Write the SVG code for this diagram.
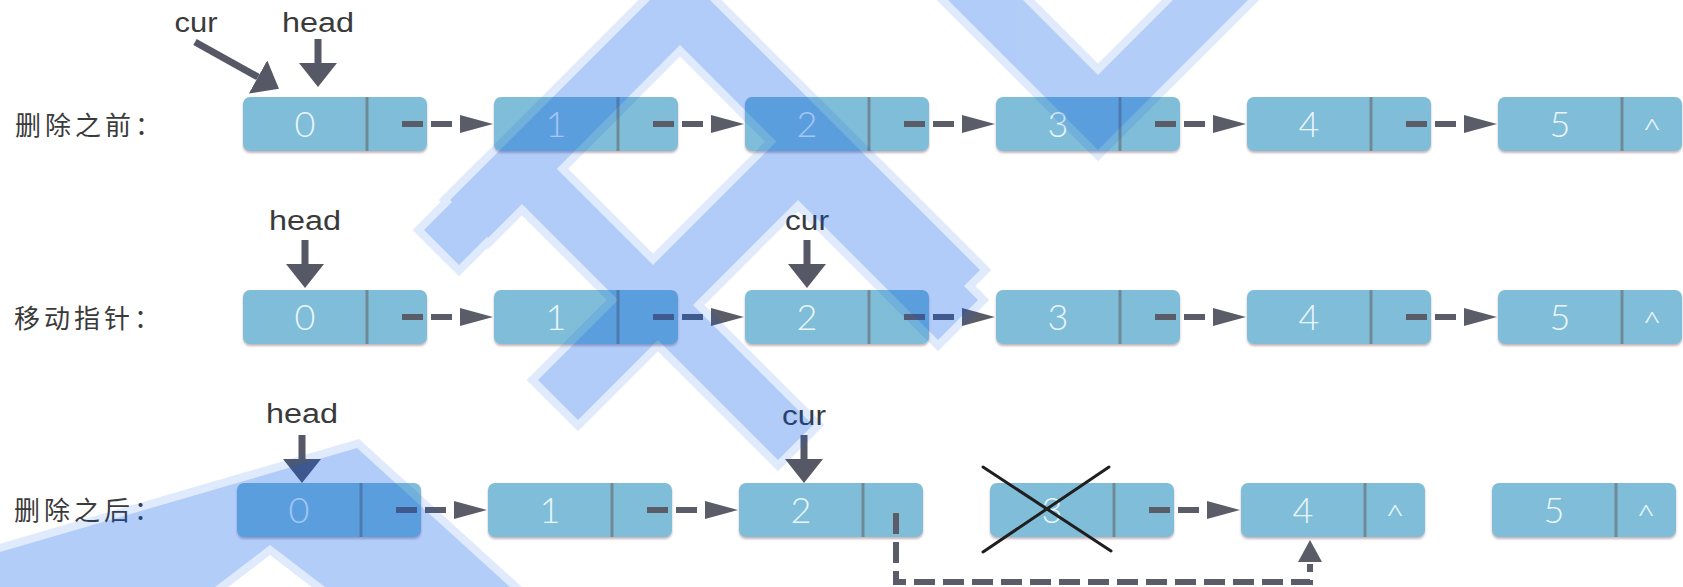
<svg xmlns="http://www.w3.org/2000/svg" width="1683" height="587" viewBox="0 0 1683 587">
  <style>
    .box { fill: #80bdd8; filter: url(#lift); }
    .div { stroke: #6f8a96; stroke-width: 3; }
    .val { font-family: Lato, "Liberation Sans", sans-serif; font-weight: 300; font-size: 36px; fill: #eaf6fb; text-anchor: middle; }
    .nil { font-family: Lato, "Liberation Sans", sans-serif; font-weight: 300; font-size: 32px; fill: #eaf6fb; text-anchor: middle; }
    .row { font-family: "Noto Sans CJK SC", "Noto Sans", sans-serif; font-size: 26px; letter-spacing: 4px; fill: #3a3a3a; }
    .ptr-label { font-family: "Liberation Sans", Arial, sans-serif; font-size: 27px; fill: #3a3a3a; text-anchor: middle; }
    .ptr { stroke: #565866; stroke-width: 7; fill: none; marker-end: url(#ptrHead); }
    .link { stroke: #5a5c68; stroke-width: 6; fill: none; stroke-dasharray: 21 8; marker-end: url(#linkHead); }
    .detour { stroke: #5a5c68; stroke-width: 6; fill: none; stroke-dasharray: 21 8; marker-end: url(#upHead); }
    .cross { stroke: #1f1f1f; stroke-width: 3; stroke-linecap: round; }
    .tint { fill: #0558ee; }
    .fringe { fill: #0558ee; stroke: #0558ee; stroke-width: 16; stroke-linejoin: miter; }
  </style>
  <defs>
    <filter id="lift" x="-5%" y="-10%" width="110%" height="130%">
      <feDropShadow dx="0" dy="2" stdDeviation="1.2" flood-color="#7a5a66" flood-opacity="0.45"/>
    </filter>
    <marker id="ptrHead" markerUnits="userSpaceOnUse" markerWidth="24" markerHeight="38" refX="0" refY="19" orient="auto">
      <path d="M0,0 L24,19 L0,38 z" fill="#565866"/>
    </marker>
    <marker id="linkHead" markerUnits="userSpaceOnUse" markerWidth="41" markerHeight="18" refX="0" refY="9" orient="auto">
      <path d="M8,0 L41,9 L8,18 z" fill="#5a5c68"/>
    </marker>
    <marker id="upHead" markerUnits="userSpaceOnUse" markerWidth="24" markerHeight="24" refX="0" refY="12" orient="auto">
      <path d="M2,0 L24,12 L2,24 z" fill="#5a5c68"/>
    </marker>
    <!-- chevron shapes shared by the overlay fill and its pale fringe -->
    <g id="chevrons">
      <polygon points="680,-30 980,270 942,308 680,45 488,238 450,200"/>
      <polygon points="521,133 813,425 778,460 521,203 459,265 424,230"/>
      <polygon points="798,120 978,300 938,340 798,200 578,420 538,380"/>
      <polygon points="918,-30 1098,150 1278,-30 1203,-30 1098,75 993,-30"/>
      <polygon points="0,587 0,552 357,448 510,587 325,587 270,545 215,587"/>
    </g>
  </defs>

  <rect width="1683" height="587" fill="#ffffff"/>

  <!-- row captions -->
  <g id="captions">
    <text class="row" x="15" y="135">删除之前：</text>
    <text class="row" x="14" y="328">移动指针：</text>
    <text class="row" x="14" y="520">删除之后：</text>
  </g>

  <!-- row 1: before deletion -->
  <g id="r1n0" transform="translate(243,97)"><rect class="box" width="184" height="54" rx="7"/><line class="div" x1="124" y1="0" x2="124" y2="54"/><text class="val" x="62" y="40">0</text></g>
  <g id="r1n1" transform="translate(494,97)"><rect class="box" width="184" height="54" rx="7"/><line class="div" x1="124" y1="0" x2="124" y2="54"/><text class="val" x="62" y="40">1</text></g>
  <g id="r1n2" transform="translate(745,97)"><rect class="box" width="184" height="54" rx="7"/><line class="div" x1="124" y1="0" x2="124" y2="54"/><text class="val" x="62" y="40">2</text></g>
  <g id="r1n3" transform="translate(996,97)"><rect class="box" width="184" height="54" rx="7"/><line class="div" x1="124" y1="0" x2="124" y2="54"/><text class="val" x="62" y="40">3</text></g>
  <g id="r1n4" transform="translate(1247,97)"><rect class="box" width="184" height="54" rx="7"/><line class="div" x1="124" y1="0" x2="124" y2="54"/><text class="val" x="62" y="40">4</text></g>
  <g id="r1n5" transform="translate(1498,97)"><rect class="box" width="184" height="54" rx="7"/><line class="div" x1="124" y1="0" x2="124" y2="54"/><text class="val" x="62" y="40">5</text><text class="nil" x="154" y="44" textLength="20" lengthAdjust="spacingAndGlyphs">^</text></g>

  <!-- row 2: pointer moved -->
  <g id="r2n0" transform="translate(243,290)"><rect class="box" width="184" height="54" rx="7"/><line class="div" x1="124" y1="0" x2="124" y2="54"/><text class="val" x="62" y="40">0</text></g>
  <g id="r2n1" transform="translate(494,290)"><rect class="box" width="184" height="54" rx="7"/><line class="div" x1="124" y1="0" x2="124" y2="54"/><text class="val" x="62" y="40">1</text></g>
  <g id="r2n2" transform="translate(745,290)"><rect class="box" width="184" height="54" rx="7"/><line class="div" x1="124" y1="0" x2="124" y2="54"/><text class="val" x="62" y="40">2</text></g>
  <g id="r2n3" transform="translate(996,290)"><rect class="box" width="184" height="54" rx="7"/><line class="div" x1="124" y1="0" x2="124" y2="54"/><text class="val" x="62" y="40">3</text></g>
  <g id="r2n4" transform="translate(1247,290)"><rect class="box" width="184" height="54" rx="7"/><line class="div" x1="124" y1="0" x2="124" y2="54"/><text class="val" x="62" y="40">4</text></g>
  <g id="r2n5" transform="translate(1498,290)"><rect class="box" width="184" height="54" rx="7"/><line class="div" x1="124" y1="0" x2="124" y2="54"/><text class="val" x="62" y="40">5</text><text class="nil" x="154" y="44" textLength="20" lengthAdjust="spacingAndGlyphs">^</text></g>

  <!-- row 3: after deletion -->
  <g id="r3n0" transform="translate(237,483)"><rect class="box" width="184" height="54" rx="7"/><line class="div" x1="124" y1="0" x2="124" y2="54"/><text class="val" x="62" y="40">0</text></g>
  <g id="r3n1" transform="translate(488,483)"><rect class="box" width="184" height="54" rx="7"/><line class="div" x1="124" y1="0" x2="124" y2="54"/><text class="val" x="62" y="40">1</text></g>
  <g id="r3n2" transform="translate(739,483)"><rect class="box" width="184" height="54" rx="7"/><line class="div" x1="124" y1="0" x2="124" y2="54"/><text class="val" x="62" y="40">2</text></g>
  <g id="r3n3" transform="translate(990,483)"><rect class="box" width="184" height="54" rx="7"/><line class="div" x1="124" y1="0" x2="124" y2="54"/><text class="val" x="62" y="40">3</text></g>
  <g id="r3n4" transform="translate(1241,483)"><rect class="box" width="184" height="54" rx="7"/><line class="div" x1="124" y1="0" x2="124" y2="54"/><text class="val" x="62" y="40">4</text><text class="nil" x="154" y="44" textLength="20" lengthAdjust="spacingAndGlyphs">^</text></g>
  <g id="r3n5" transform="translate(1492,483)"><rect class="box" width="184" height="54" rx="7"/><line class="div" x1="124" y1="0" x2="124" y2="54"/><text class="val" x="62" y="40">5</text><text class="nil" x="154" y="44" textLength="20" lengthAdjust="spacingAndGlyphs">^</text></g>

  <!-- removed node is struck through -->
  <g id="r3n3-cross">
    <line class="cross" x1="983" y1="467" x2="1111" y2="551"/>
    <line class="cross" x1="1109" y1="467" x2="983" y2="552"/>
  </g>

  <!-- next links and pointer arrows -->
  <g id="connectors">
    <path class="link" d="M402,124 H452"/>
    <path class="link" d="M653,124 H703"/>
    <path class="link" d="M904,124 H954"/>
    <path class="link" d="M1155,124 H1205"/>
    <path class="link" d="M1406,124 H1456"/>

    <path class="link" d="M402,317 H452"/>
    <path class="link" d="M653,317 H703"/>
    <path class="link" d="M904,317 H954"/>
    <path class="link" d="M1155,317 H1205"/>
    <path class="link" d="M1406,317 H1456"/>

    <path class="link" d="M396,510 H446"/>
    <path class="link" d="M647,510 H697"/>
    <path class="link" d="M1149,510 H1199"/>
    <path class="detour" d="M896,513 V582 H1310 V564"/>

    <path class="ptr" d="M318,39 V63"/>
    <path class="ptr" d="M195,42 L258,77"/>
    <path class="ptr" d="M305,240 V264"/>
    <path class="ptr" d="M807,240 V264"/>
    <path class="ptr" d="M302,435 V459"/>
    <path class="ptr" d="M804,435 V459"/>
  </g>

  <g id="pointer-labels">
    <text class="ptr-label" x="196" y="32" textLength="43" lengthAdjust="spacingAndGlyphs">cur</text>
    <text class="ptr-label" x="318" y="32" textLength="72" lengthAdjust="spacingAndGlyphs">head</text>
    <text class="ptr-label" x="305" y="230" textLength="72" lengthAdjust="spacingAndGlyphs">head</text>
    <text class="ptr-label" x="807" y="230" textLength="44" lengthAdjust="spacingAndGlyphs">cur</text>
    <text class="ptr-label" x="302" y="423" textLength="72" lengthAdjust="spacingAndGlyphs">head</text>
    <text class="ptr-label" x="804" y="425" textLength="44" lengthAdjust="spacingAndGlyphs">cur</text>
  </g>

  <!-- translucent chevron overlay: a pale fringe, then the body, each composited once -->
  <g id="overlay-fringe" class="fringe" opacity="0.12">
    <use href="#chevrons"/>
  </g>
  <g id="overlay" class="tint" opacity="0.2">
    <use href="#chevrons"/>
  </g>
</svg>
